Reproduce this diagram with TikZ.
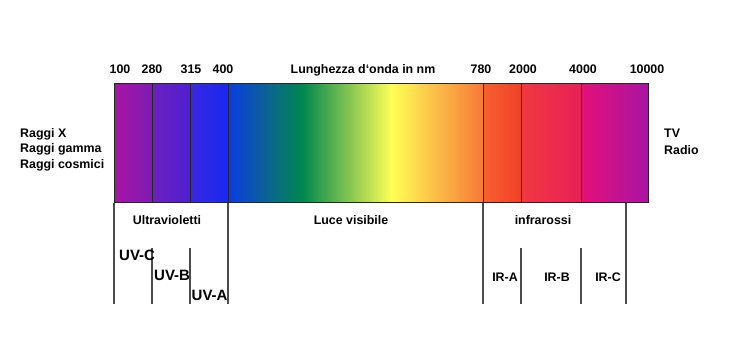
\documentclass[tikz,border=0pt]{standalone}
\usepackage{fontspec}
\setmainfont{Liberation Sans}
\begin{document}
\begin{tikzpicture}[x=1pt,y=-1pt,
  lbl/.style={font=\bfseries\fontsize{12.4}{14}\selectfont, inner sep=0pt, anchor=base},
  lbll/.style={lbl, anchor=base west},
  biglbl/.style={font=\bfseries\fontsize{15}{17}\selectfont, inner sep=0pt, anchor=base west},
  divider/.style={draw=black!85, line width=1pt},
  tick/.style={draw=black!70, line width=1.2pt},
  seg/.style={draw=none}]
\useasboundingbox (0,0) rectangle (747,363);
% gradient segments
\fill[left color={rgb,255:red,168;green,20;blue,164}, right color={rgb,255:red,124;green,28;blue,180}] (114,84) rectangle (152,203);
\fill[left color={rgb,255:red,108;green,32;blue,192}, right color={rgb,255:red,78;green,32;blue,206}] (152,84) rectangle (190,203);
\fill[left color={rgb,255:red,58;green,40;blue,224}, right color={rgb,255:red,24;green,40;blue,242}] (190,84) rectangle (228,203);
\fill[left color={rgb,255:red,10;green,60;blue,226}, right color={rgb,255:red,12;green,100;blue,144}] (228,84) rectangle (268,203);
\fill[left color={rgb,255:red,12;green,100;blue,144}, right color={rgb,255:red,0;green,136;blue,76}] (267.5,84) rectangle (303,203);
\fill[left color={rgb,255:red,0;green,136;blue,76}, right color={rgb,255:red,255;green,255;blue,85}] (302.5,84) rectangle (392,203);
\fill[left color={rgb,255:red,255;green,255;blue,85}, right color={rgb,255:red,248;green,120;blue,56}] (391.5,84) rectangle (483,203);
\fill[left color={rgb,255:red,248;green,96;blue,48}, right color={rgb,255:red,240;green,64;blue,40}] (483,84) rectangle (521,203);
\fill[left color={rgb,255:red,240;green,56;blue,64}, right color={rgb,255:red,232;green,32;blue,88}] (521,84) rectangle (581,203);
\fill[left color={rgb,255:red,228;green,16;blue,120}, right color={rgb,255:red,168;green,20;blue,164}] (581,84) rectangle (648,203);
% named coordinates
\coordinate (b100t) at (114,84);   \coordinate (b100b) at (114,203);
\coordinate (b280t) at (152,84);   \coordinate (b280b) at (152,203);
\coordinate (b315t) at (190,84);   \coordinate (b315b) at (190,203);
\coordinate (b400t) at (228,84);   \coordinate (b400b) at (228,203);
\coordinate (b780t) at (483,84);   \coordinate (b780b) at (483,203);
\coordinate (b2kt) at (521,84);    \coordinate (b2kb) at (521,203);
\coordinate (b4kt) at (581,84);    \coordinate (b4kb) at (581,203);
\coordinate (b10kt) at (648,84);   \coordinate (b10kb) at (648,203);
\draw[line width=1pt, draw=black!85] (b100t) rectangle (b10kb);
\foreach \n in {280,315,400,780,2k,4k}{\draw[divider] (b\n t) -- (b\n b);}
% ticks below bar
\coordinate (e100) at (114,304); \coordinate (e400) at (228,304);
\coordinate (s280) at (152,248); \coordinate (e280) at (152,304);
\coordinate (s315) at (190,248); \coordinate (e315) at (190,304);
\coordinate (e780) at (483,304);
\coordinate (s2k) at (521,248); \coordinate (e2k) at (521,304);
\coordinate (s4k) at (581,248); \coordinate (e4k) at (581,304);
\coordinate (s626) at (626,203); \coordinate (e626) at (626,304);
\draw[tick] (b100b) -- (e100);
\draw[tick] (b400b) -- (e400);
\draw[tick] (s280) -- (e280);
\draw[tick] (s315) -- (e315);
\draw[tick] (b780b) -- (e780);
\draw[tick] (s2k) -- (e2k);
\draw[tick] (s4k) -- (e4k);
\draw[tick] (s626) -- (e626);
% top labels
\node[lbl] (t100) at (120,74) {100};
\node[lbl] (t280) at (152,74) {280};
\node[lbl] (t315) at (191,74) {315};
\node[lbl] (t400) at (223,74) {400};
\node[lbl] (tl) at (363,74) {Lunghezza d‘onda in nm};
\node[lbl] (t780) at (481,74) {780};
\node[lbl] (t2k) at (523,74) {2000};
\node[lbl] (t4k) at (583,74) {4000};
\node[lbl] (t10k) at (647,74) {10000};
% side labels
\node[lbll] (rx) at (20,137.3) {Raggi X};
\node[lbll] (rg) at (20,152.7) {Raggi gamma};
\node[lbll] (rc) at (20,168.3) {Raggi cosmici};
\node[lbll] (tv) at (664,137.3) {TV};
\node[lbll] (rd) at (664,155) {Radio};
% region labels
\node[lbl] (uv) at (167,225) {Ultravioletti};
\node[lbl] (lv) at (351,225) {Luce visibile};
\node[lbl] (ir) at (543,225) {infrarossi};
\node[biglbl] (uvc) at (119,261) {UV-C};
\node[biglbl] (uvb) at (154,281) {UV-B};
\node[biglbl] (uva) at (191.5,301) {UV-A};
\node[lbl] (ira) at (505,282) {IR-A};
\node[lbl] (irb) at (557,282) {IR-B};
\node[lbl] (irc) at (608,282) {IR-C};
\end{tikzpicture}
\end{document}
